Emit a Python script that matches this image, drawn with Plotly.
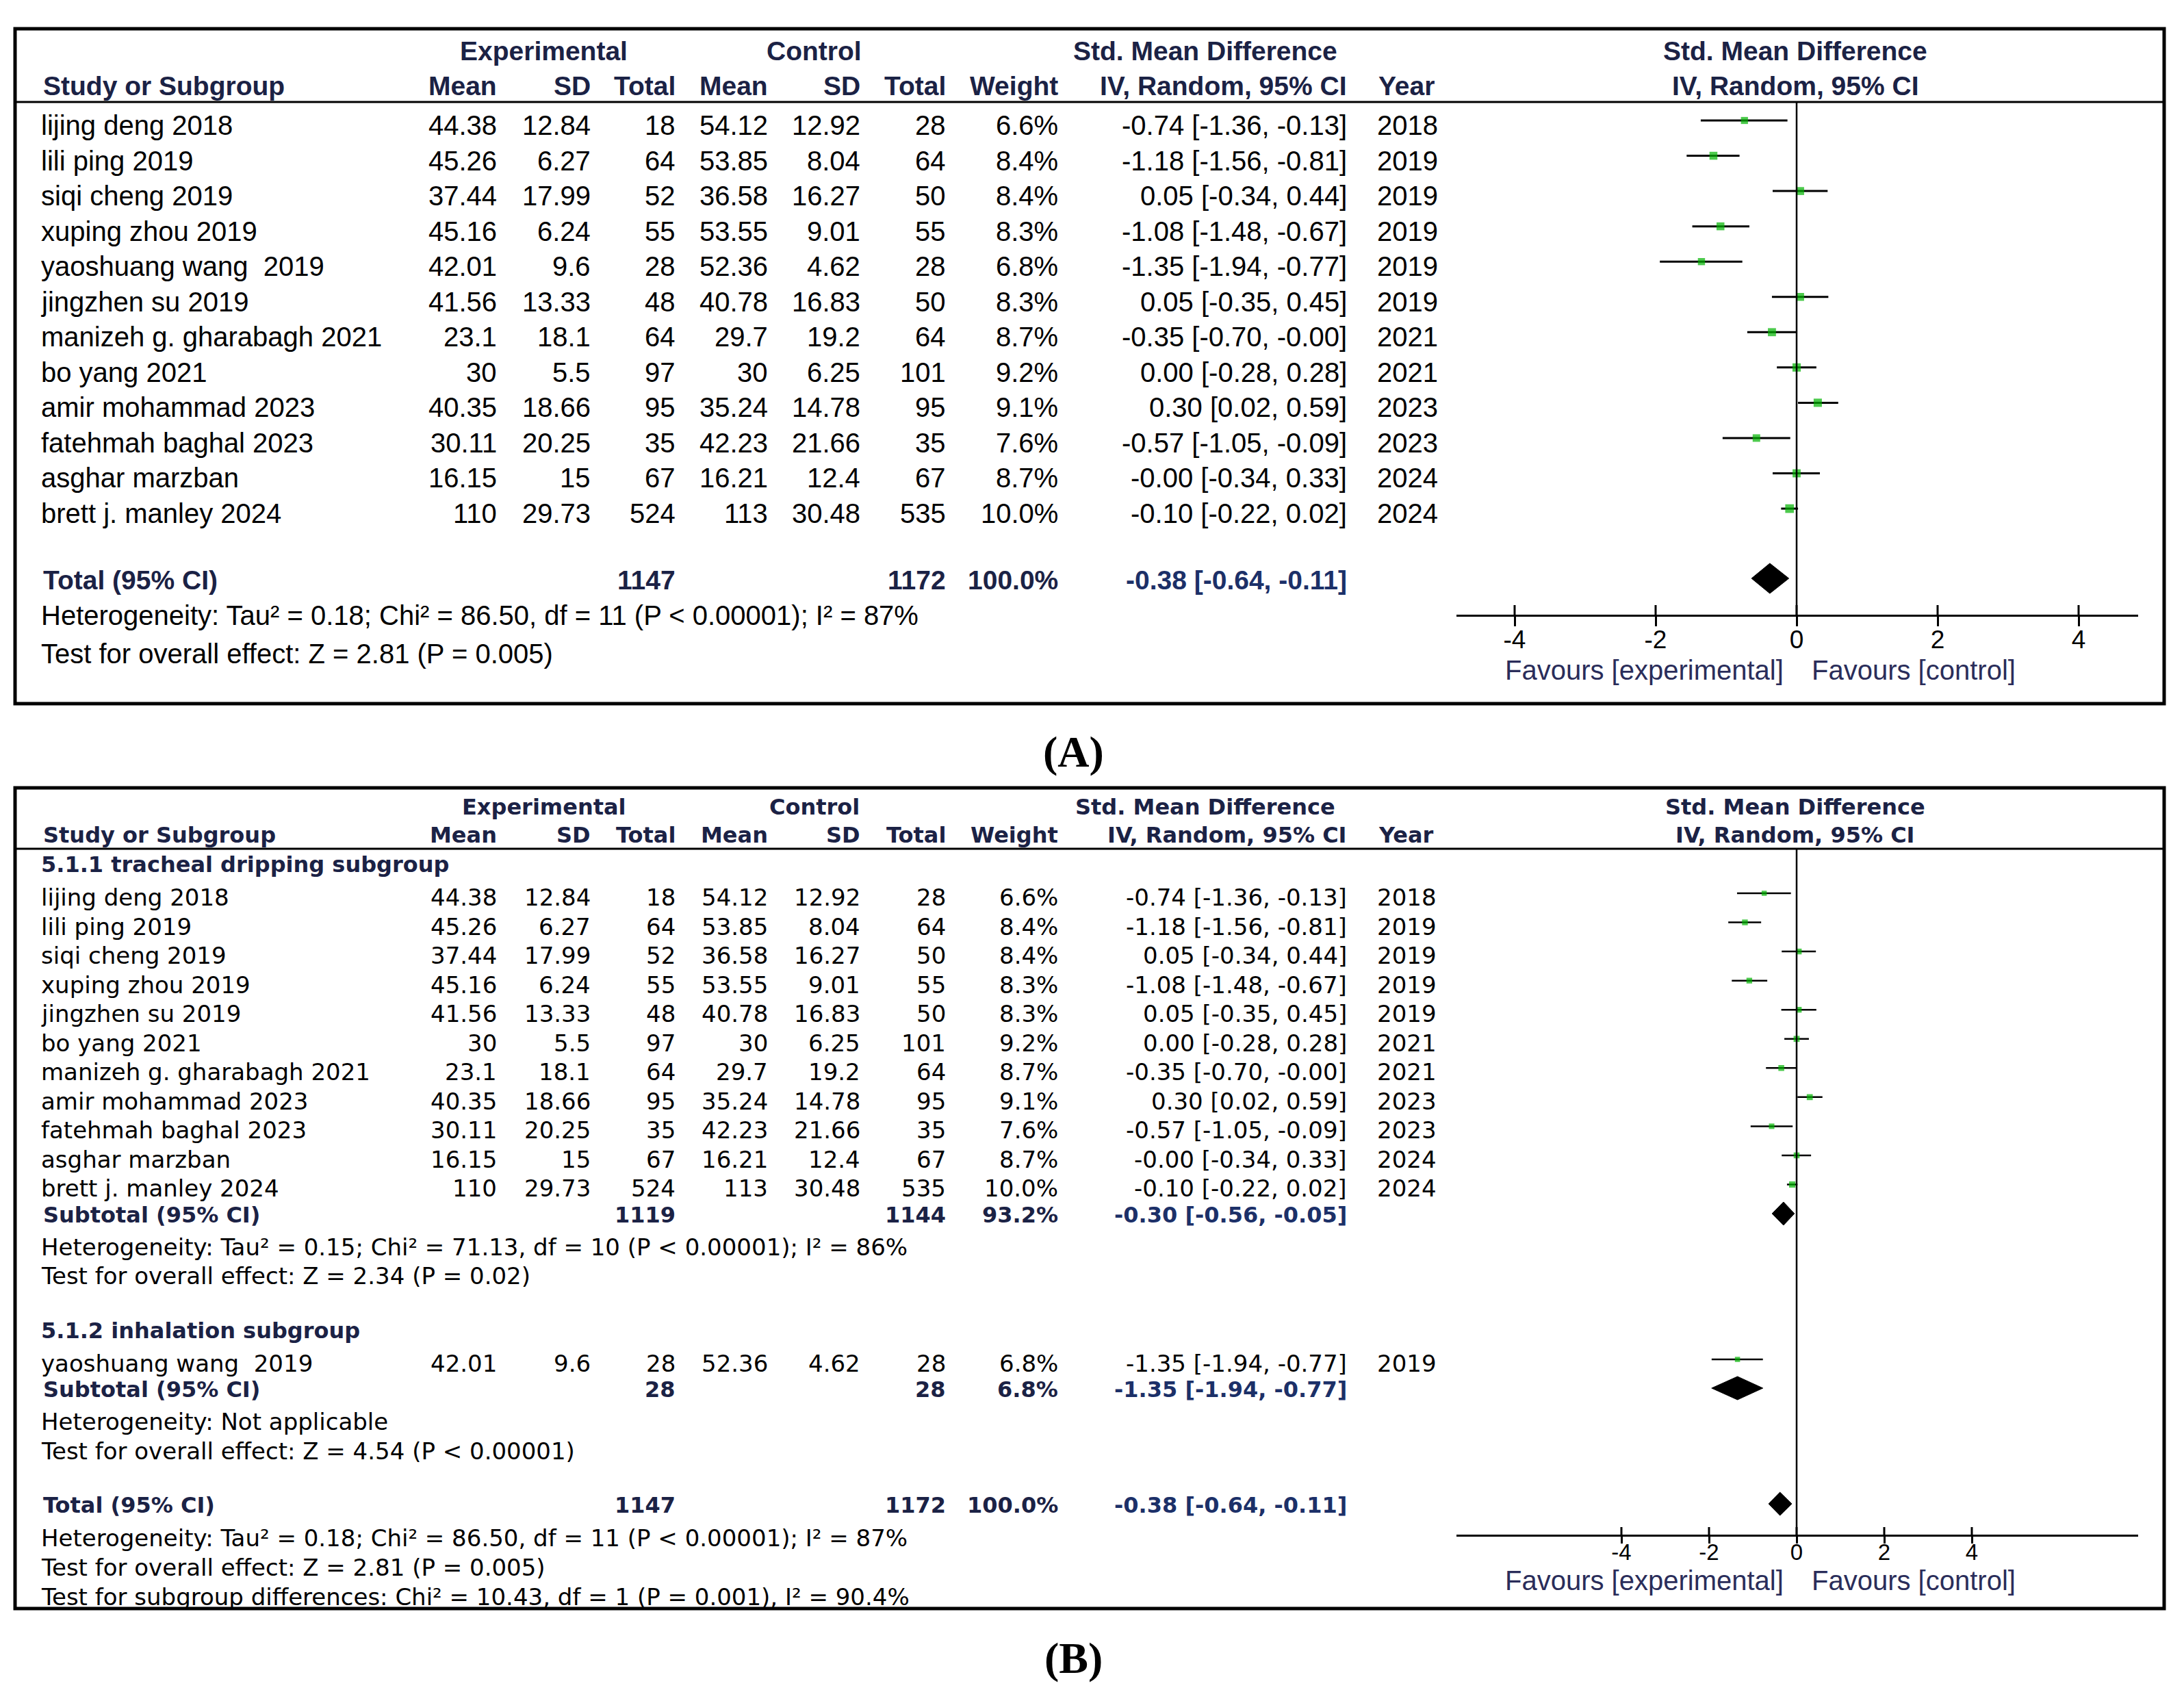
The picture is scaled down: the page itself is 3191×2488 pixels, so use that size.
import plotly.graph_objects as go

W, H = 3191, 2488

# ---------------- data ----------------
names = ["lijing deng 2018", "lili ping 2019", "siqi cheng 2019", "xuping zhou 2019",
         "yaoshuang wang\u00a0 2019", "jingzhen su 2019", "manizeh g. gharabagh 2021",
         "bo yang 2021", "amir mohammad 2023", "fatehmah baghal 2023", "asghar marzban",
         "brett j. manley 2024"]
exp_mean = [44.38, 45.26, 37.44, 45.16, 42.01, 41.56, 23.1, 30, 40.35, 30.11, 16.15, 110]
exp_sd = [12.84, 6.27, 17.99, 6.24, 9.6, 13.33, 18.1, 5.5, 18.66, 20.25, 15, 29.73]
exp_n = [18, 64, 52, 55, 28, 48, 64, 97, 95, 35, 67, 524]
ctl_mean = [54.12, 53.85, 36.58, 53.55, 52.36, 40.78, 29.7, 30, 35.24, 42.23, 16.21, 113]
ctl_sd = [12.92, 8.04, 16.27, 9.01, 4.62, 16.83, 19.2, 6.25, 14.78, 21.66, 12.4, 30.48]
ctl_n = [28, 64, 50, 55, 28, 50, 64, 101, 95, 35, 67, 535]
weight = [6.6, 8.4, 8.4, 8.3, 6.8, 8.3, 8.7, 9.2, 9.1, 7.6, 8.7, 10.0]
smd = [-0.74, -1.18, 0.05, -1.08, -1.35, 0.05, -0.35, 0.00, 0.30, -0.57, -0.0, -0.10]
ci_lo = [-1.36, -1.56, -0.34, -1.48, -1.94, -0.35, -0.70, -0.28, 0.02, -1.05, -0.34, -0.22]
ci_hi = [-0.13, -0.81, 0.44, -0.67, -0.77, 0.45, -0.0, 0.28, 0.59, -0.09, 0.33, 0.02]
year = [2018, 2019, 2019, 2019, 2019, 2019, 2021, 2021, 2023, 2023, 2024, 2024]

# panel B grouping
sub_names = ["5.1.1 tracheal dripping subgroup", "5.1.2 inhalation subgroup"]
sub_members = [[0, 1, 2, 3, 5, 7, 6, 8, 9, 10, 11], [4]]
sub_n_exp = [1119, 28]
sub_n_ctl = [1144, 28]
sub_weight = [93.2, 6.8]
sub_smd = [-0.30, -1.35]
sub_lo = [-0.56, -1.94]
sub_hi = [-0.05, -0.77]
sub_het = ["Heterogeneity: Tau\u00b2 = 0.15; Chi\u00b2 = 71.13, df = 10 (P &lt; 0.00001); I\u00b2 = 86%",
           "Heterogeneity: Not applicable"]
sub_test = ["Test for overall effect: Z = 2.34 (P = 0.02)",
            "Test for overall effect: Z = 4.54 (P &lt; 0.00001)"]

total_n_exp = 1147
total_n_ctl = 1172
total_weight = 100.0
total_smd = -0.38
total_lo = -0.64
total_hi = -0.11
total_het = "Heterogeneity: Tau\u00b2 = 0.18; Chi\u00b2 = 86.50, df = 11 (P &lt; 0.00001); I\u00b2 = 87%"
total_test = "Test for overall effect: Z = 2.81 (P = 0.005)"
subgroup_diff = "Test for subgroup differences: Chi\u00b2 = 10.43, df = 1 (P = 0.001), I\u00b2 = 90.4%"

tick_vals = [-4, -2, 0, 2, 4]
tick_text = ["-4", "-2", "0", "2", "4"]
fav_left = "Favours [experimental]"
fav_right = "Favours [control]"

# ---------------- styling / layout constants ----------------
FA = "Liberation Sans, Arial, sans-serif"
FB = "DejaVu Sans, Verdana, sans-serif"
NAVY = "#1b2245"
CIBLUE = "#1c3068"
FAVC = "#2a2d5a"
GREEN = "#00b400"

COL = dict(em=728, esd=865, en=989, cm=1124, csd=1259, cn=1384, w=1548, ci=1970)
YEAR_X = 2010
NAME_X = 58
ZERO_PX = 2625
AX_L, AX_R = 2128, 3124
LEFT, RIGHT = 22, 3162

annotations = []
shapes = []


def txt(x, y, s, anchor="left", size=40, family=FA, color="black", bold=False):
    annotations.append(dict(x=x / W, y=1 - y / H, xref="paper", yref="paper", text=s,
                            showarrow=False, xanchor=anchor, yanchor="middle",
                            font=dict(family=family, size=size, color=color,
                                      weight=700 if bold else 400)))


def hline(y, x0, x1, width):
    shapes.append(dict(type="line", xref="paper", yref="paper", x0=x0 / W, x1=x1 / W,
                       y0=1 - y / H, y1=1 - y / H, line=dict(color="black", width=width)))


def box(x0, y0, x1, y1, width):
    shapes.append(dict(type="rect", xref="paper", yref="paper", x0=x0 / W, x1=x1 / W,
                       y0=1 - y1 / H, y1=1 - y0 / H, line=dict(color="black", width=width)))


def fnum(v):
    return f"{v:g}"


def fci(e, lo, hi):
    return f"{e:.2f} [{lo:.2f}, {hi:.2f}]"


def header(y1, y2, fam, size):
    txt((671 + 918) / 2, y1, "Experimental", "center", size, fam, NAVY, True)
    txt((1122 + 1257) / 2, y1, "Control", "center", size, fam, NAVY, True)
    txt(1761, y1, "Std. Mean Difference", "center", size, fam, NAVY, True)
    txt(2623, y1, "Std. Mean Difference", "center", size, fam, NAVY, True)
    txt(61, y2, "Study or Subgroup", "left", size, fam, NAVY, True)
    for key, lab in [("em", "Mean"), ("esd", "SD"), ("en", "Total"), ("cm", "Mean"),
                     ("csd", "SD"), ("cn", "Total"), ("w", "Weight"), ("ci", "IV, Random, 95% CI")]:
        txt(COL[key], y2, lab, "right", size, fam, NAVY, True)
    txt(YEAR_X + 2, y2, "Year", "left", size, fam, NAVY, True)
    txt(2623, y2, "IV, Random, 95% CI", "center", size, fam, NAVY, True)


def study_row(i, y, fam, size):
    txt(NAME_X, y, names[i], "left", size, fam)
    vals = [("em", fnum(exp_mean[i])), ("esd", fnum(exp_sd[i])), ("en", str(exp_n[i])),
            ("cm", fnum(ctl_mean[i])), ("csd", fnum(ctl_sd[i])), ("cn", str(ctl_n[i])),
            ("w", f"{weight[i]:.1f}%"), ("ci", fci(smd[i], ci_lo[i], ci_hi[i]))]
    for key, s in vals:
        txt(COL[key], y, s, "right", size, fam)
    txt(YEAR_X, y, str(year[i]), "left", size, fam)


traces = []


def forest(order, ys, diamonds, xa, ya, msize_k, lw, dh, off, doff):
    xs, yy = [], []
    for i, y in zip(order, ys):
        xs += [ci_lo[i], ci_hi[i], None]
        yy += [y + off, y + off, None]
    traces.append(go.Scatter(x=xs, y=yy, mode="lines", xaxis=xa, yaxis=ya,
                             line=dict(color="black", width=lw), hoverinfo="skip"))
    traces.append(go.Scatter(x=[smd[i] for i in order], y=[y + off for y in ys],
                             mode="markers", xaxis=xa, yaxis=ya,
                             marker=dict(symbol="square", color=GREEN,
                                         size=[msize_k * weight[i] ** 0.5 for i in order],
                                         line=dict(width=0))))
    for (e, lo, hi, y) in diamonds:
        yc = y + doff
        traces.append(go.Scatter(x=[lo, e, hi, e, lo], y=[yc, yc - dh, yc, yc + dh, yc],
                                 mode="lines", fill="toself", fillcolor="black",
                                 line=dict(color="black", width=1), xaxis=xa, yaxis=ya,
                                 hoverinfo="skip"))


# ================= PANEL A =================
A_TOP, A_BOT = 42, 1028
A_H1, A_H2, A_LINE = 75, 126, 149
A_ROW0, A_STEP = 183, 51.55
A_TOTAL, A_HET, A_TEST = 847, 899, 955
A_AXIS = 898

box(LEFT, A_TOP, RIGHT, A_BOT, 5)
hline(A_LINE, LEFT, RIGHT, 3)
header(A_H1, A_H2, FA, 39)
a_ys = [A_ROW0 + k * A_STEP for k in range(len(names))]
for i, y in enumerate(a_ys):
    study_row(i, y, FA, 40)
txt(61, A_TOTAL, "Total (95% CI)", "left", 39, FA, NAVY, True)
txt(COL["en"], A_TOTAL, str(total_n_exp), "right", 39, FA, NAVY, True)
txt(COL["cn"], A_TOTAL, str(total_n_ctl), "right", 39, FA, NAVY, True)
txt(COL["w"], A_TOTAL, f"{total_weight:.1f}%", "right", 39, FA, NAVY, True)
txt(COL["ci"], A_TOTAL, fci(total_smd, total_lo, total_hi), "right", 39, FA, CIBLUE, True)
txt(NAME_X, A_HET, total_het, "left", 40, FA)
txt(NAME_X, A_TEST, total_test, "left", 40, FA)
txt(2608, 979, fav_left, "right", 40, FA, FAVC)
txt(2645, 979, fav_right, "left", 40, FA, FAVC)
txt(1568, 1098, "(A)", "center", 64, "Liberation Serif, Times New Roman, serif", "black", True)

forest(list(range(len(names))), a_ys, [(total_smd, total_lo, total_hi, A_TOTAL)],
       "x", "y", 4.0, 3, 22, -7, -2)

# ================= PANEL B =================
B_TOP, B_BOT = 1151, 2350
B_H1, B_H2, B_LINE = 1179, 1220, 1240
B_AXIS = 2242
B_STEP = 42.55
box(LEFT, B_TOP, RIGHT, B_BOT, 5)
hline(B_LINE, LEFT, RIGHT, 3)
header(B_H1, B_H2, FB, 32)

b_layout = [  # (subgroup header y, first row y, subtotal y, het y, test y)
    (1263, 1311, 1775, 1822, 1864),
    (1944, 1992, 2030, 2077, 2120),
]
b_order, b_ys, b_diamonds = [], [], []
for g, (yh, y0, ys_, yhet, ytest) in enumerate(b_layout):
    txt(NAME_X, yh, sub_names[g], "left", 32, FB, NAVY, True)
    for k, i in enumerate(sub_members[g]):
        y = y0 + k * B_STEP
        study_row(i, y, FB, 34)
        b_order.append(i)
        b_ys.append(y)
    txt(61, ys_, "Subtotal (95% CI)", "left", 32, FB, NAVY, True)
    txt(COL["en"], ys_, str(sub_n_exp[g]), "right", 32, FB, NAVY, True)
    txt(COL["cn"], ys_, str(sub_n_ctl[g]), "right", 32, FB, NAVY, True)
    txt(COL["w"], ys_, f"{sub_weight[g]:.1f}%", "right", 32, FB, NAVY, True)
    txt(COL["ci"], ys_, fci(sub_smd[g], sub_lo[g], sub_hi[g]), "right", 32, FB, CIBLUE, True)
    txt(NAME_X, yhet, sub_het[g], "left", 34, FB)
    txt(NAME_X, ytest, sub_test[g], "left", 34, FB)
    b_diamonds.append((sub_smd[g], sub_lo[g], sub_hi[g], ys_))

B_TOTAL = 2199
txt(61, B_TOTAL, "Total (95% CI)", "left", 32, FB, NAVY, True)
txt(COL["en"], B_TOTAL, str(total_n_exp), "right", 32, FB, NAVY, True)
txt(COL["cn"], B_TOTAL, str(total_n_ctl), "right", 32, FB, NAVY, True)
txt(COL["w"], B_TOTAL, f"{total_weight:.1f}%", "right", 32, FB, NAVY, True)
txt(COL["ci"], B_TOTAL, fci(total_smd, total_lo, total_hi), "right", 32, FB, CIBLUE, True)
txt(NAME_X, 2247, total_het, "left", 34, FB)
txt(NAME_X, 2290, total_test, "left", 34, FB)
txt(NAME_X, 2333, subgroup_diff, "left", 34, FB)
b_diamonds.append((total_smd, total_lo, total_hi, B_TOTAL))
txt(2608, 2309, fav_left, "right", 40, FA, FAVC)
txt(2645, 2309, fav_right, "left", 40, FA, FAVC)
txt(1568, 2422, "(B)", "center", 64, "Liberation Serif, Times New Roman, serif", "black", True)

forest(b_order, b_ys, b_diamonds, "x2", "y2", 2.9, 2.5, 17, -6, -2)

# zero lines and upper half of tick marks
for xa, ya, top, ax in [("x", "y", A_LINE, A_AXIS), ("x2", "y2", B_LINE, B_AXIS)]:
    shapes.append(dict(type="line", xref=xa, yref=ya, x0=0, x1=0, y0=top, y1=ax,
                       line=dict(color="black", width=2.5)))
for v in tick_vals:
    shapes.append(dict(type="line", xref="x", yref="y", x0=v, x1=v, y0=A_AXIS - 14, y1=A_AXIS,
                       line=dict(color="black", width=3)))
    shapes.append(dict(type="line", xref="x2", yref="y2", x0=v, x1=v, y0=B_AXIS - 11, y1=B_AXIS,
                       line=dict(color="black", width=3)))

fig = go.Figure(traces)


def xaxis_cfg(unit, ticklen, fsize, anchor, standoff):
    return dict(domain=[AX_L / W, AX_R / W],
                range=[(AX_L - ZERO_PX) / unit, (AX_R - ZERO_PX) / unit],
                anchor=anchor, showline=True, linecolor="black", linewidth=3,
                ticks="outside", ticklen=ticklen, tickwidth=3, tickcolor="black",
                tickmode="array", tickvals=tick_vals, ticktext=tick_text,
                ticklabelstandoff=standoff,
                tickfont=dict(family=FA, size=fsize, color="black"),
                showgrid=False, zeroline=False, fixedrange=True)


def yaxis_cfg(top, bottom, anchor):
    return dict(domain=[1 - bottom / H, 1 - top / H], range=[bottom, top], visible=False,
                showgrid=False, zeroline=False, anchor=anchor, fixedrange=True)


fig.update_layout(
    width=W, height=H, margin=dict(l=0, r=0, t=0, b=0),
    paper_bgcolor="white", plot_bgcolor="rgba(0,0,0,0)", showlegend=False,
    xaxis=xaxis_cfg(103, 14, 37, "y", -12),
    yaxis=yaxis_cfg(A_LINE, A_AXIS, "x"),
    xaxis2=xaxis_cfg(64, 10, 33, "y2", -16),
    yaxis2=yaxis_cfg(B_LINE, B_AXIS, "x2"),
    annotations=annotations, shapes=shapes,
)

fig.write_html("out.html", config={"displayModeBar": False},
               post_script="document.body.style.margin='0';")
